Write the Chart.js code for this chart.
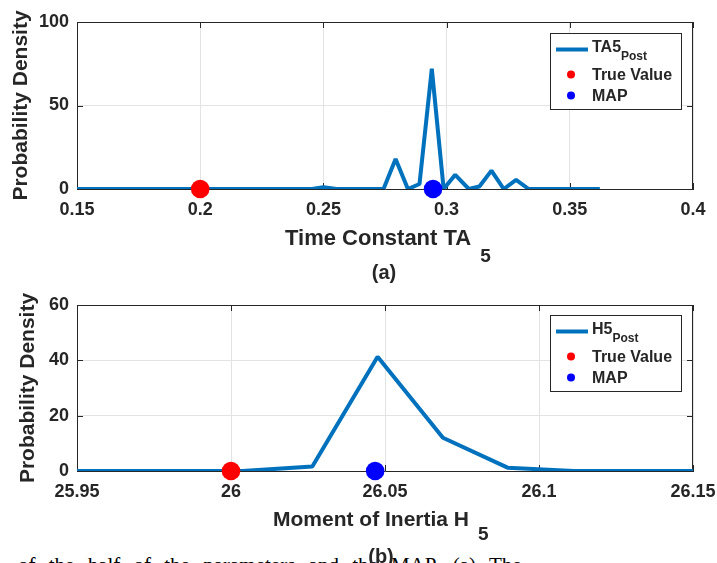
<!DOCTYPE html>
<html><head><meta charset="utf-8">
<script src="https://cdn.jsdelivr.net/npm/chart.js@4.4.1/dist/chart.umd.min.js"></script>
<style>
html,body{margin:0;padding:0;background:#fff;}
#wrap{position:relative;width:717px;height:563px;overflow:hidden;background:#fff;}
#cA{position:absolute;left:0;top:0;width:717px;height:288px;}
#cB{position:absolute;left:0;top:282px;width:717px;height:281px;}
#doc{position:absolute;left:18px;top:555px;white-space:nowrap;font-family:"Liberation Serif",serif;font-size:21px;line-height:21px;color:#000;word-spacing:8px;}
</style></head><body>
<div id="wrap">
<div id="doc">of the half of the parameters and the MAP. (a) The</div>
<canvas id="cA" width="717" height="288"></canvas>
<canvas id="cB" width="717" height="281"></canvas>
</div>
<script>
// ---- Data ----
const taX = [0.15, 0.2453, 0.25, 0.2554, 0.2744, 0.2793, 0.2843, 0.2890, 0.2940, 0.2988, 0.3035, 0.3090, 0.3133, 0.3182, 0.3232, 0.3282, 0.3333, 0.3622];
const taY = [0, 0, 1, 0, 0, 18, 0, 3, 72, 0, 8.5, 0, 1.5, 11, 0, 5.5, 0, 0];
const taTrue = [0.2];
const taMAP = [0.2945];
const taXTicks = [0.15, 0.2, 0.25, 0.3, 0.35, 0.4];
const taYTicks = [0, 50, 100];

const hX = [25.95, 25.962, 25.9837, 26.0037, 26.0264, 26.0476, 26.0688, 26.0898, 26.1113, 26.1325, 26.15];
const hY = [0, 0, 0, 0, 1.6, 41.3, 12, 1.2, 0, 0, 0];
const hTrue = [26.0];
const hMAP = [26.0468];
const hXTicks = [25.95, 26, 26.05, 26.1, 26.15];
const hYTicks = [0, 20, 40, 60];

const legendA = ['TA5', 'True Value', 'MAP'];
const legendB = ['H5', 'True Value', 'MAP'];
const legendSub = 'Post';
const yTitle = 'Probability Density';
const xTitleA = ['Time Constant TA', '5'];
const xTitleB = ['Moment of Inertia H', '5'];
const captionA = '(a)';
const captionB = '(b)';

// ---- Styles ----
const LINE = '#0072BD';
const TXT = '#262626';
const AXIS = '#262626';
const GRID = '#e3e3e3';
const FONT = '"Liberation Sans", Arial, sans-serif';

function makeChart(canvasId, cfg) {
  const pts = cfg.xs.map((v, i) => ({x: v, y: cfg.ys[i]}));
  const deco = {
    id: 'deco',
    beforeDatasetsDraw(chart) {
      const {ctx, chartArea: a, scales: {x, y}} = chart;
      ctx.save();
      ctx.strokeStyle = AXIS; ctx.lineWidth = 1;
      ctx.beginPath();
      ctx.moveTo(a.left, a.top + 0.5); ctx.lineTo(a.right, a.top + 0.5);
      ctx.moveTo(a.right - 0.5, a.top); ctx.lineTo(a.right - 0.5, a.bottom);
      x.ticks.forEach(t => {
        const px = Math.round(x.getPixelForValue(t.value)) + 0.5;
        ctx.moveTo(px, a.bottom); ctx.lineTo(px, a.bottom - 6);
        ctx.moveTo(px, a.top); ctx.lineTo(px, a.top + 6);
      });
      y.ticks.forEach(t => {
        const py = Math.round(y.getPixelForValue(t.value)) + 0.5;
        ctx.moveTo(a.left, py); ctx.lineTo(a.left + 6, py);
        ctx.moveTo(a.right, py); ctx.lineTo(a.right - 6, py);
      });
      ctx.stroke();
      ctx.restore();
    },
    afterDraw(chart) {
      const ctx = chart.ctx;
      ctx.save();
      // legend
      const L = {x: 550.5, y: 33.5, w: 131, h: 76};
      ctx.fillStyle = '#fff';
      ctx.fillRect(L.x, L.y, L.w, L.h);
      ctx.strokeStyle = AXIS; ctx.lineWidth = 1;
      ctx.strokeRect(L.x, L.y, L.w, L.h);
      ctx.strokeStyle = LINE; ctx.lineWidth = 4;
      ctx.beginPath(); ctx.moveTo(556, 49.5); ctx.lineTo(588, 49.5); ctx.stroke();
      ctx.fillStyle = TXT; ctx.textBaseline = 'alphabetic'; ctx.textAlign = 'left';
      ctx.font = 'bold 16px ' + FONT;
      ctx.fillText(cfg.legend[0], 592, 52);
      const w0 = ctx.measureText(cfg.legend[0]).width;
      ctx.font = 'bold 12px ' + FONT;
      ctx.fillText(legendSub, 592 + w0, 60);
      ctx.fillStyle = '#FF0000';
      ctx.beginPath(); ctx.arc(571, 74.5, 4, 0, Math.PI * 2); ctx.fill();
      ctx.fillStyle = '#0000FF';
      ctx.beginPath(); ctx.arc(571, 95.5, 4, 0, Math.PI * 2); ctx.fill();
      ctx.fillStyle = TXT;
      ctx.font = 'bold 16px ' + FONT;
      ctx.fillText(cfg.legend[1], 592, 80);
      ctx.fillText(cfg.legend[2], 592, 101);
      // x title with subscript
      ctx.font = 'bold ' + cfg.xtSize + 'px ' + FONT;
      ctx.fillText(cfg.xTitle[0], cfg.xtX, cfg.xtY);
      const wt = ctx.measureText(cfg.xTitle[0]).width;
      ctx.font = 'bold 19px ' + FONT;
      ctx.fillText(cfg.xTitle[1], cfg.xtX + wt + 9, cfg.xtSubY);
      // caption
      ctx.textAlign = 'center';
      ctx.font = 'bold 20px ' + FONT;
      ctx.fillText(cfg.caption, cfg.capX, cfg.capY);
      ctx.restore();
    }
  };
  return new Chart(document.getElementById(canvasId), {
    type: 'scatter',
    data: {
      datasets: [
        {label: cfg.legend[2], data: cfg.map.map(v => ({x: v, y: 0})), backgroundColor: '#0000FF', borderColor: '#0000FF', pointRadius: 9.3, pointBorderWidth: 0, clip: false, order: 1},
        {label: cfg.legend[1], data: cfg.tru.map(v => ({x: v, y: 0})), backgroundColor: '#FF0000', borderColor: '#FF0000', pointRadius: 9.3, pointBorderWidth: 0, clip: false, order: 2},
        {label: cfg.legend[0] + '_' + legendSub, data: pts, showLine: true, borderColor: LINE, backgroundColor: LINE, borderWidth: 4, pointRadius: 0, borderJoinStyle: 'bevel', order: 3}
      ]
    },
    options: {
      responsive: false, animation: false, devicePixelRatio: 1,
      layout: {padding: {left: 0, top: cfg.padTop, right: 24, bottom: 0}},
      plugins: {legend: {display: false}, tooltip: {enabled: false}},
      scales: {
        x: {
          type: 'linear', min: cfg.xTicks[0], max: cfg.xTicks[cfg.xTicks.length - 1],
          afterBuildTicks: s => { s.ticks = cfg.xTicks.map(v => ({value: v})); },
          afterFit: s => { s.height = cfg.xAxisH; s.paddingLeft = 0; s.paddingRight = 0; },
          ticks: {callback: v => String(v), color: TXT, font: {family: FONT, size: 18, weight: 'bold'}, padding: 10, maxRotation: 0, autoSkip: false},
          grid: {color: GRID, lineWidth: 1, drawTicks: false},
          border: {color: AXIS, width: 1}
        },
        y: {
          type: 'linear', min: cfg.yTicks[0], max: cfg.yTicks[cfg.yTicks.length - 1],
          afterBuildTicks: s => { s.ticks = cfg.yTicks.map(v => ({value: v})); },
          afterFit: s => { s.width = 77; s.paddingTop = 0; s.paddingBottom = 0; },
          ticks: {callback: v => String(v), color: TXT, font: {family: FONT, size: 18, weight: 'bold'}, padding: 8},
          grid: {color: GRID, lineWidth: 1, drawTicks: false},
          border: {color: AXIS, width: 1},
          title: {display: true, text: yTitle, color: TXT, font: {family: FONT, size: 21, weight: 'bold'}, padding: {top: cfg.ytPad, bottom: 0}}
        }
      }
    },
    plugins: [deco]
  });
}

makeChart('cA', {
  xs: taX, ys: taY, tru: taTrue, map: taMAP, xTicks: taXTicks, yTicks: taYTicks,
  legend: legendA, xTitle: xTitleA, caption: captionA,
  padTop: 22, xAxisH: 99, ytPad: 9,
  xtSize: 22, xtX: 285, xtY: 245, xtSubY: 262, capX: 384, capY: 279
});
makeChart('cB', {
  xs: hX, ys: hY, tru: hTrue, map: hMAP, xTicks: hXTicks, yTicks: hYTicks,
  legend: legendB, xTitle: xTitleB, caption: captionB,
  padTop: 23, xAxisH: 92, ytPad: 16,
  xtSize: 21, xtX: 273, xtY: 244, xtSubY: 258, capX: 381, capY: 281
});
</script>
</body></html>
